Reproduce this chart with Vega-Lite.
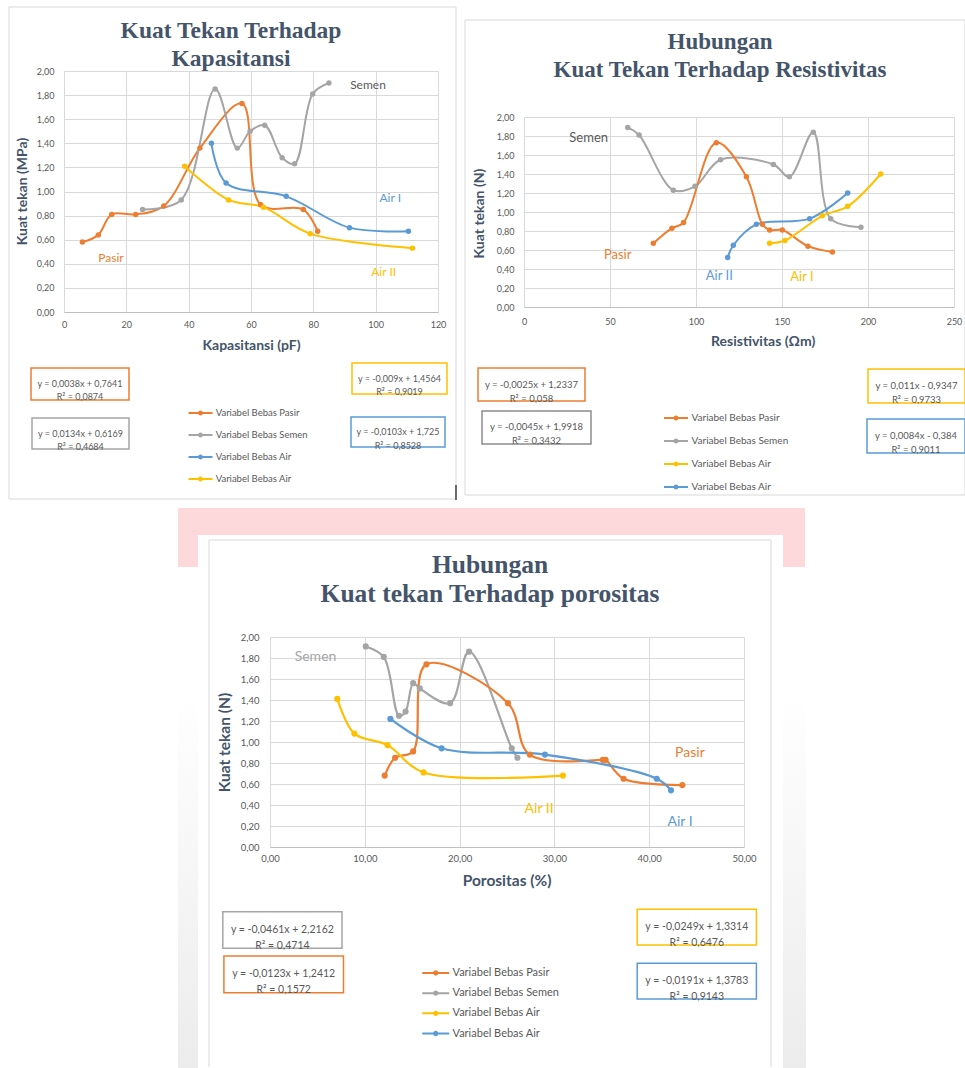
{
  "$schema": "https://vega.github.io/schema/vega-lite/v6.json",
  "padding": 0,
  "autosize": {"type": "pad"},
  "background": "white",
  "bounds": "flush",
  "align": "each",
  "spacing": {"row": 67, "column": 0},
  "columns": 2,
  "resolve": {"scale": {"color": "independent"}, "legend": {"color": "independent"}},
  "datasets": {
    "kap": [
      {"seri": "Pasir", "x": 5.9, "y": 0.58}, {"seri": "Pasir", "x": 11.0, "y": 0.64}, {"seri": "Pasir", "x": 15.3, "y": 0.81}, {"seri": "Pasir", "x": 23.0, "y": 0.81}, {"seri": "Pasir", "x": 32.0, "y": 0.88}, {"seri": "Pasir", "x": 43.6, "y": 1.36}, {"seri": "Pasir", "x": 57.1, "y": 1.73}, {"seri": "Pasir", "x": 63.1, "y": 0.89}, {"seri": "Pasir", "x": 76.8, "y": 0.85}, {"seri": "Pasir", "x": 81.4, "y": 0.67},
      {"seri": "Semen", "x": 25.2, "y": 0.85}, {"seri": "Semen", "x": 37.6, "y": 0.93}, {"seri": "Semen", "x": 48.5, "y": 1.85}, {"seri": "Semen", "x": 55.6, "y": 1.36}, {"seri": "Semen", "x": 59.7, "y": 1.50}, {"seri": "Semen", "x": 64.4, "y": 1.55}, {"seri": "Semen", "x": 70.0, "y": 1.28}, {"seri": "Semen", "x": 74.0, "y": 1.23}, {"seri": "Semen", "x": 79.8, "y": 1.81}, {"seri": "Semen", "x": 85.0, "y": 1.90},
      {"seri": "Air I", "x": 47.3, "y": 1.40}, {"seri": "Air I", "x": 52.0, "y": 1.07}, {"seri": "Air I", "x": 71.3, "y": 0.96}, {"seri": "Air I", "x": 91.6, "y": 0.70}, {"seri": "Air I", "x": 110.5, "y": 0.67},
      {"seri": "Air II", "x": 38.7, "y": 1.21}, {"seri": "Air II", "x": 52.8, "y": 0.93}, {"seri": "Air II", "x": 64.0, "y": 0.87}, {"seri": "Air II", "x": 79.0, "y": 0.65}, {"seri": "Air II", "x": 111.8, "y": 0.53}
    ],
    "res": [
      {"seri": "Semen", "x": 60.3, "y": 1.89}, {"seri": "Semen", "x": 66.9, "y": 1.81}, {"seri": "Semen", "x": 86.8, "y": 1.23}, {"seri": "Semen", "x": 99.4, "y": 1.27}, {"seri": "Semen", "x": 114.3, "y": 1.55}, {"seri": "Semen", "x": 145.0, "y": 1.50}, {"seri": "Semen", "x": 154.3, "y": 1.37}, {"seri": "Semen", "x": 168.2, "y": 1.84}, {"seri": "Semen", "x": 178.3, "y": 0.93}, {"seri": "Semen", "x": 195.9, "y": 0.84},
      {"seri": "Pasir", "x": 75.2, "y": 0.67}, {"seri": "Pasir", "x": 86.0, "y": 0.83}, {"seri": "Pasir", "x": 92.8, "y": 0.89}, {"seri": "Pasir", "x": 111.8, "y": 1.73}, {"seri": "Pasir", "x": 129.3, "y": 1.37}, {"seri": "Pasir", "x": 138.6, "y": 0.87}, {"seri": "Pasir", "x": 142.8, "y": 0.81}, {"seri": "Pasir", "x": 150.2, "y": 0.81}, {"seri": "Pasir", "x": 165.1, "y": 0.64}, {"seri": "Pasir", "x": 179.3, "y": 0.58},
      {"seri": "Air II", "x": 118.4, "y": 0.52}, {"seri": "Air II", "x": 121.7, "y": 0.65}, {"seri": "Air II", "x": 135.1, "y": 0.87}, {"seri": "Air II", "x": 166.1, "y": 0.93}, {"seri": "Air II", "x": 188.2, "y": 1.20},
      {"seri": "Air I", "x": 142.8, "y": 0.67}, {"seri": "Air I", "x": 151.7, "y": 0.70}, {"seri": "Air I", "x": 173.4, "y": 0.96}, {"seri": "Air I", "x": 188.2, "y": 1.06}, {"seri": "Air I", "x": 207.4, "y": 1.40}
    ],
    "por": [
      {"seri": "Semen", "x": 10.1, "y": 1.91}, {"seri": "Semen", "x": 12.0, "y": 1.81}, {"seri": "Semen", "x": 13.6, "y": 1.25}, {"seri": "Semen", "x": 14.3, "y": 1.29}, {"seri": "Semen", "x": 15.1, "y": 1.56}, {"seri": "Semen", "x": 15.8, "y": 1.51}, {"seri": "Semen", "x": 19.0, "y": 1.37}, {"seri": "Semen", "x": 21.0, "y": 1.86}, {"seri": "Semen", "x": 25.5, "y": 0.94}, {"seri": "Semen", "x": 26.1, "y": 0.85},
      {"seri": "Pasir", "x": 12.1, "y": 0.68}, {"seri": "Pasir", "x": 13.2, "y": 0.85}, {"seri": "Pasir", "x": 15.1, "y": 0.91}, {"seri": "Pasir", "x": 16.5, "y": 1.74}, {"seri": "Pasir", "x": 25.1, "y": 1.37}, {"seri": "Pasir", "x": 27.4, "y": 0.88}, {"seri": "Pasir", "x": 35.1, "y": 0.83}, {"seri": "Pasir", "x": 35.4, "y": 0.83}, {"seri": "Pasir", "x": 37.3, "y": 0.65}, {"seri": "Pasir", "x": 43.5, "y": 0.59},
      {"seri": "Air I", "x": 12.7, "y": 1.22}, {"seri": "Air I", "x": 18.1, "y": 0.94}, {"seri": "Air I", "x": 29.0, "y": 0.88}, {"seri": "Air I", "x": 40.8, "y": 0.65}, {"seri": "Air I", "x": 42.3, "y": 0.54},
      {"seri": "Air II", "x": 7.1, "y": 1.41}, {"seri": "Air II", "x": 8.9, "y": 1.08}, {"seri": "Air II", "x": 12.4, "y": 0.97}, {"seri": "Air II", "x": 16.2, "y": 0.71}, {"seri": "Air II", "x": 30.9, "y": 0.68}
    ]
  },
  "concat": [
    {
      "width": 168,
      "height": 241,
      "data": {"values": [{}]},
      "layer": [
        {
          "data": {"name": "kap"},
          "mark": {"type": "line", "interpolate": "catmull-rom", "strokeWidth": 2, "point": {"filled": true, "size": 30}},
          "encoding": {
            "x": {"field": "x", "type": "quantitative", "scale": {"domain": [0, 120], "range": [-206, 168], "nice": false, "zero": false},
                  "axis": {"values": [0, 20, 40, 60, 80, 100, 120], "tickCount": 40, "format": "d", "title": "Kapasitansi (pF)", "titleX": -19, "titleY": 33, "titleAlign": "center", "titleBaseline": "middle", "labelPadding": 8, "labelOverlap": false}},
            "y": {"field": "y", "type": "quantitative", "scale": {"domain": [0, 2], "nice": false, "zero": false},
                  "axis": {"values": [0, 0.2, 0.4, 0.6, 0.8, 1, 1.2, 1.4, 1.6, 1.8, 2], "tickCount": 40, "labelExpr": "replace(format(datum.value, '.2f'), '.', ',')", "title": "Kuat tekan  (MPa)", "offset": 206, "titleX": -41.3, "titleY": 120, "titleAngle": -90, "titleAlign": "center", "titleBaseline": "middle", "labelPadding": 10, "labelOverlap": false}},
            "color": {"field": "seri", "type": "nominal",
                      "scale": {"domain": ["Pasir", "Semen", "Air I", "Air II"], "range": ["#ED7D31", "#A5A5A5", "#5B9BD5", "#FFC000"]},
                      "legend": {"orient": "none", "legendX": -76.5, "legendY": 335, "title": null, "padding": 0, "symbolType": "M-2,0H2M-0.25,0A0.25,0.25,0,1,1,0.25,0A0.25,0.25,0,1,1,-0.25,0Z", "symbolSize": 144, "symbolStrokeWidth": 2, "labelFont": "Lato", "labelFontSize": 9.5, "labelColor": "#595959", "labelOffset": 8.2, "rowPadding": 9, "labelExpr": "datum.label == 'Pasir' ? 'Variabel Bebas Pasir' : datum.label == 'Semen' ? 'Variabel Bebas Semen' : 'Variabel Bebas Air'"}}
          }
        },
        {"mark": {"type": "rect", "opacity": 0}, "encoding": {"x": {"datum": -20.214}, "x2": {"datum": 289.41}, "y": {"datum": 2.5892}, "y2": {"datum": -6.2739}}},
        {"mark": {"type": "rect", "color": "#FDD9DB"}, "encoding": {"x": {"datum": 36.578}, "x2": {"datum": 237.754}, "y": {"datum": -1.6266}, "y2": {"datum": -2.1162}}},
        {"mark": {"type": "rect", "color": "white"}, "encoding": {"x": {"datum": 42.995}, "x2": {"datum": 230.695}, "y": {"datum": -1.8506}, "y2": {"datum": -2.1245}}},
        {"mark": {"type": "rect", "color": {"gradient": "linear", "x1": 0, "y1": 0, "x2": 0, "y2": 1, "stops": [{"offset": 0, "color": "#ffffff"}, {"offset": 1, "color": "#ececec"}]}}, "encoding": {"x": {"datum": 36.578}, "x2": {"datum": 42.995}, "y": {"datum": -3.137}, "y2": {"datum": -6.2739}}},
        {"mark": {"type": "rect", "color": {"gradient": "linear", "x1": 0, "y1": 0, "x2": 0, "y2": 1, "stops": [{"offset": 0, "color": "#ffffff"}, {"offset": 1, "color": "#ececec"}]}}, "encoding": {"x": {"datum": 230.695}, "x2": {"datum": 238.075}, "y": {"datum": -3.137}, "y2": {"datum": -6.2739}}},
        {"mark": {"type": "rect", "filled": false, "stroke": "#D9D9D9", "strokeWidth": 1}, "encoding": {"x": {"datum": -17.647}, "x2": {"datum": 125.775}, "y": {"datum": 2.5311}, "y2": {"datum": -1.5519}}},
        {"mark": {"type": "rule", "color": "#404040", "strokeWidth": 1.5}, "encoding": {"x": {"datum": 125.775}, "y": {"datum": -1.4357}, "y2": {"datum": -1.5602}}},
        {"mark": {"type": "text", "text": ["Kuat Tekan Terhadap", "Kapasitansi"], "font": "Liberation Serif", "fontWeight": "bold", "fontSize": 23.5, "color": "#44546A", "align": "center", "baseline": "alphabetic", "lineHeight": 28}, "encoding": {"x": {"datum": 53.58}, "y": {"datum": 2.2739}}},
        {"mark": {"type": "text", "text": "Semen", "color": "#595959", "font": "Lato", "fontSize": 12, "align": "center", "baseline": "middle"}, "encoding": {"x": {"datum": 97.54}, "y": {"datum": 1.8838}}},
        {"mark": {"type": "text", "text": "Air I", "color": "#5B9BD5", "font": "Lato", "fontSize": 12, "align": "center", "baseline": "middle"}, "encoding": {"x": {"datum": 104.69}, "y": {"datum": 0.9436}}},
        {"mark": {"type": "text", "text": "Pasir", "color": "#ED7D31", "font": "Lato", "fontSize": 12, "align": "center", "baseline": "middle"}, "encoding": {"x": {"datum": 15.08}, "y": {"datum": 0.4456}}},
        {"mark": {"type": "text", "text": "Air II", "color": "#FFC000", "font": "Lato", "fontSize": 12, "align": "center", "baseline": "middle"}, "encoding": {"x": {"datum": 102.58}, "y": {"datum": 0.3295}}},
        {"mark": {"type": "rect", "fill": "white", "stroke": "#ED7D31", "strokeWidth": 1.5}, "encoding": {"x": {"datum": -10.588}, "x2": {"datum": 20.856}, "y": {"datum": -0.4647}, "y2": {"datum": -0.7303}}},
        {"mark": {"type": "text", "text": ["y = 0,0038x + 0,7641", "R² = 0,0874"], "color": "#595959", "font": "Lato", "fontSize": 9, "lineHeight": 13.5, "align": "center", "baseline": "middle"}, "encoding": {"x": {"datum": 5.134}, "y": {"datum": -0.5975}}},
        {"mark": {"type": "rect", "fill": "white", "stroke": "#A5A5A5", "strokeWidth": 1.5}, "encoding": {"x": {"datum": -10.267}, "x2": {"datum": 20.856}, "y": {"datum": -0.8797}, "y2": {"datum": -1.1369}}},
        {"mark": {"type": "text", "text": ["y = 0,0134x + 0,6169", "R² = 0,4684"], "color": "#595959", "font": "Lato", "fontSize": 9, "lineHeight": 13.5, "align": "center", "baseline": "middle"}, "encoding": {"x": {"datum": 5.294}, "y": {"datum": -1.0083}}},
        {"mark": {"type": "rect", "fill": "white", "stroke": "#FFC000", "strokeWidth": 1.5}, "encoding": {"x": {"datum": 92.406}, "x2": {"datum": 122.888}, "y": {"datum": -0.4232}, "y2": {"datum": -0.6805}}},
        {"mark": {"type": "text", "text": ["y = -0,009x + 1,4564", "R² = 0,9019"], "color": "#595959", "font": "Lato", "fontSize": 9, "lineHeight": 13.5, "align": "center", "baseline": "middle"}, "encoding": {"x": {"datum": 107.647}, "y": {"datum": -0.5519}}},
        {"mark": {"type": "rect", "fill": "white", "stroke": "#5B9BD5", "strokeWidth": 1.5}, "encoding": {"x": {"datum": 92.086}, "x2": {"datum": 122.246}, "y": {"datum": -0.8714}, "y2": {"datum": -1.1203}}},
        {"mark": {"type": "text", "text": ["y = -0,0103x + 1,725", "R² = 0,8528"], "color": "#595959", "font": "Lato", "fontSize": 9, "lineHeight": 13.5, "align": "center", "baseline": "middle"}, "encoding": {"x": {"datum": 107.166}, "y": {"datum": -0.9959}}}
      ]
    },
    {
      "width": 210,
      "height": 282,
      "data": {"values": [{}]},
      "layer": [
        {
          "data": {"name": "res"},
          "mark": {"type": "line", "interpolate": "catmull-rom", "strokeWidth": 2, "point": {"filled": true, "size": 30}},
          "encoding": {
            "x": {"field": "x", "type": "quantitative", "scale": {"domain": [0, 250], "range": [-220, 210], "nice": false, "zero": false},
                  "axis": {"values": [0, 50, 100, 150, 200, 250], "tickCount": 40, "format": "d", "offset": -46, "title": "Resistivitas (Ωm)", "titleX": 18.7, "titleY": 34.7, "titleAlign": "center", "titleBaseline": "middle", "labelPadding": 10, "labelOverlap": false}},
            "y": {"field": "y", "type": "quantitative", "scale": {"domain": [0, 2], "range": [236, 46], "nice": false, "zero": false},
                  "axis": {"values": [0, 0.2, 0.4, 0.6, 0.8, 1, 1.2, 1.4, 1.6, 1.8, 2], "tickCount": 40, "labelExpr": "replace(format(datum.value, '.2f'), '.', ',')", "title": "Kuat tekan  (N)", "offset": 220, "titleX": -45, "titleY": 142, "titleAngle": -90, "titleAlign": "center", "titleBaseline": "middle", "labelPadding": 10, "labelOverlap": false}},
            "color": {"field": "seri", "type": "nominal",
                      "scale": {"domain": ["Pasir", "Semen", "Air I", "Air II"], "range": ["#ED7D31", "#A5A5A5", "#FFC000", "#5B9BD5"]},
                      "legend": {"orient": "none", "legendX": -75, "legendY": 340, "title": null, "padding": 0, "symbolType": "M-2,0H2M-0.25,0A0.25,0.25,0,1,1,0.25,0A0.25,0.25,0,1,1,-0.25,0Z", "symbolSize": 144, "symbolStrokeWidth": 2, "labelFont": "Lato", "labelFontSize": 10, "labelColor": "#595959", "labelOffset": 8.5, "rowPadding": 10, "labelExpr": "datum.label == 'Pasir' ? 'Variabel Bebas Pasir' : datum.label == 'Semen' ? 'Variabel Bebas Semen' : 'Variabel Bebas Air'"}}
          }
        },
        {"mark": {"type": "rect", "filled": false, "stroke": "#D9D9D9", "strokeWidth": 1}, "encoding": {"x": {"datum": -34.302}, "x2": {"datum": 256.395}, "y": {"datum": 3.0211}, "y2": {"datum": -1.9789}}},
        {"mark": {"type": "text", "text": ["Hubungan", "Kuat Tekan Terhadap Resistivitas"], "font": "Liberation Serif", "fontWeight": "bold", "fontSize": 23, "color": "#44546A", "align": "center", "baseline": "alphabetic", "lineHeight": 28.5}, "encoding": {"x": {"datum": 113.953}, "y": {"datum": 2.7158}}},
        {"mark": {"type": "text", "text": "Semen", "color": "#595959", "font": "Lato", "fontSize": 13, "align": "center", "baseline": "middle"}, "encoding": {"x": {"datum": 37.616}, "y": {"datum": 1.7758}}},
        {"mark": {"type": "text", "text": "Pasir", "color": "#ED7D31", "font": "Lato", "fontSize": 13, "align": "center", "baseline": "middle"}, "encoding": {"x": {"datum": 54.477}, "y": {"datum": 0.5474}}},
        {"mark": {"type": "text", "text": "Air II", "color": "#5B9BD5", "font": "Lato", "fontSize": 13, "align": "center", "baseline": "middle"}, "encoding": {"x": {"datum": 113.547}, "y": {"datum": 0.3295}}},
        {"mark": {"type": "text", "text": "Air I", "color": "#FFC000", "font": "Lato", "fontSize": 13, "align": "center", "baseline": "middle"}, "encoding": {"x": {"datum": 161.628}, "y": {"datum": 0.3189}}},
        {"mark": {"type": "rect", "fill": "white", "stroke": "#ED7D31", "strokeWidth": 1.5}, "encoding": {"x": {"datum": -26.744}, "x2": {"datum": 35.465}, "y": {"datum": -0.6421}, "y2": {"datum": -0.9895}}},
        {"mark": {"type": "text", "text": ["y = -0,0025x + 1,2337", "R² = 0,058"], "color": "#595959", "font": "Lato", "fontSize": 9.5, "lineHeight": 14, "align": "center", "baseline": "middle"}, "encoding": {"x": {"datum": 4.36}, "y": {"datum": -0.8158}}},
        {"mark": {"type": "rect", "fill": "white", "stroke": "#8C8C8C", "strokeWidth": 1.5}, "encoding": {"x": {"datum": -24.419}, "x2": {"datum": 38.953}, "y": {"datum": -1.0947}, "y2": {"datum": -1.4421}}},
        {"mark": {"type": "text", "text": ["y = -0,0045x + 1,9918", "R² = 0,3432"], "color": "#595959", "font": "Lato", "fontSize": 9.5, "lineHeight": 14, "align": "center", "baseline": "middle"}, "encoding": {"x": {"datum": 7.267}, "y": {"datum": -1.2684}}},
        {"mark": {"type": "rect", "fill": "white", "stroke": "#FFC000", "strokeWidth": 1.5}, "encoding": {"x": {"datum": 200.0}, "x2": {"datum": 256.395}, "y": {"datum": -0.6526}, "y2": {"datum": -1.0105}}},
        {"mark": {"type": "text", "text": ["y = 0,011x - 0,9347", "R² = 0,9733"], "color": "#595959", "font": "Lato", "fontSize": 9.5, "lineHeight": 14, "align": "center", "baseline": "middle"}, "encoding": {"x": {"datum": 228.198}, "y": {"datum": -0.8316}}},
        {"mark": {"type": "rect", "fill": "white", "stroke": "#5B9BD5", "strokeWidth": 1.5}, "encoding": {"x": {"datum": 199.419}, "x2": {"datum": 256.395}, "y": {"datum": -1.1789}, "y2": {"datum": -1.5368}}},
        {"mark": {"type": "text", "text": ["y = 0,0084x - 0,384", "R² = 0,9011"], "color": "#595959", "font": "Lato", "fontSize": 9.5, "lineHeight": 14, "align": "center", "baseline": "middle"}, "encoding": {"x": {"datum": 227.907}, "y": {"datum": -1.3579}}}
      ]
    },
    {
      "width": 474,
      "height": 644,
      "data": {"values": [{}]},
      "layer": [
        {
          "data": {"name": "por"},
          "mark": {"type": "line", "interpolate": "catmull-rom", "strokeWidth": 2.2, "point": {"filled": true, "size": 38}},
          "encoding": {
            "x": {"field": "x", "type": "quantitative", "scale": {"domain": [0, 50], "nice": false, "zero": false},
                  "axis": {"values": [0, 10, 20, 30, 40, 50], "tickCount": 40, "offset": -217, "labelExpr": "replace(format(datum.value, '.2f'), '.', ',')", "title": "Porositas (%)", "titleX": 236.6, "titleY": 33, "titleAlign": "center", "titleBaseline": "middle", "titleFontSize": 15.5, "labelPadding": 6, "labelFontSize": 9.5, "labelOverlap": false}},
            "y": {"field": "y", "type": "quantitative", "scale": {"domain": [0, 2], "range": [427, 217], "nice": false, "zero": false},
                  "axis": {"values": [0, 0.2, 0.4, 0.6, 0.8, 1, 1.2, 1.4, 1.6, 1.8, 2], "tickCount": 40, "labelExpr": "replace(format(datum.value, '.2f'), '.', ',')", "title": "Kuat tekan  (N)", "titleX": -45.4, "titleY": 322, "titleAngle": -90, "titleAlign": "center", "titleBaseline": "middle", "titleFontSize": 15.5, "labelPadding": 11, "labelFontSize": 9.5, "labelOverlap": false}},
            "color": {"field": "seri", "type": "nominal",
                      "scale": {"domain": ["Pasir", "Semen", "Air II", "Air I"], "range": ["#ED7D31", "#A5A5A5", "#FFC000", "#5B9BD5"]},
                      "legend": {"orient": "none", "legendX": 157.75, "legendY": 544.95, "title": null, "padding": 0, "symbolType": "M-2,0H2M-0.25,0A0.25,0.25,0,1,1,0.25,0A0.25,0.25,0,1,1,-0.25,0Z", "symbolSize": 182, "symbolStrokeWidth": 2, "labelFont": "Lato", "labelFontSize": 11, "labelColor": "#595959", "labelOffset": 8.75, "rowPadding": 6.2, "labelExpr": "datum.label == 'Pasir' ? 'Variabel Bebas Pasir' : datum.label == 'Semen' ? 'Variabel Bebas Semen' : 'Variabel Bebas Air'"}}
          }
        },
        {"mark": {"type": "rule", "color": "#D9D9D9", "strokeWidth": 1}, "encoding": {"x": {"datum": -6.4346}, "y": {"datum": 2.9238}, "y2": {"datum": -2.0952}}},
        {"mark": {"type": "rule", "color": "#D9D9D9", "strokeWidth": 1}, "encoding": {"x": {"datum": 52.8481}, "y": {"datum": 2.9238}, "y2": {"datum": -2.0952}}},
        {"mark": {"type": "rule", "color": "#D9D9D9", "strokeWidth": 1}, "encoding": {"x": {"datum": -6.4346}, "x2": {"datum": 52.8481}, "y": {"datum": 2.9238}}},
        {"mark": {"type": "text", "text": ["Hubungan", "Kuat tekan Terhadap porositas"], "font": "Liberation Serif", "fontWeight": "bold", "fontSize": 25.5, "color": "#44546A", "align": "center", "baseline": "alphabetic", "lineHeight": 29}, "encoding": {"x": {"datum": 23.207}, "y": {"datum": 2.6067}}},
        {"mark": {"type": "text", "text": "Semen", "color": "#A5A5A5", "font": "Lato", "fontSize": 14, "align": "center", "baseline": "middle"}, "encoding": {"x": {"datum": 4.8}, "y": {"datum": 1.8067}}},
        {"mark": {"type": "text", "text": "Pasir", "color": "#ED7D31", "font": "Lato", "fontSize": 14, "align": "center", "baseline": "middle"}, "encoding": {"x": {"datum": 44.293}, "y": {"datum": 0.8924}}},
        {"mark": {"type": "text", "text": "Air II", "color": "#FFC000", "font": "Lato", "fontSize": 14, "align": "center", "baseline": "middle"}, "encoding": {"x": {"datum": 28.386}, "y": {"datum": 0.359}}},
        {"mark": {"type": "text", "text": "Air I", "color": "#5B9BD5", "font": "Lato", "fontSize": 14, "align": "center", "baseline": "middle"}, "encoding": {"x": {"datum": 43.259}, "y": {"datum": 0.241}}},
        {"mark": {"type": "rect", "fill": "white", "stroke": "#A5A5A5", "strokeWidth": 1.5}, "encoding": {"x": {"datum": -4.979}, "x2": {"datum": 7.595}, "y": {"datum": -0.6162}, "y2": {"datum": -0.9648}}},
        {"mark": {"type": "text", "text": ["y = -0,0461x + 2,2162", "R² = 0,4714"], "color": "#595959", "font": "Lato", "fontSize": 10.5, "lineHeight": 15.5, "align": "center", "baseline": "middle"}, "encoding": {"x": {"datum": 1.308}, "y": {"datum": -0.7905}}},
        {"mark": {"type": "rect", "fill": "white", "stroke": "#ED7D31", "strokeWidth": 1.5}, "encoding": {"x": {"datum": -4.863}, "x2": {"datum": 7.753}, "y": {"datum": -1.0381}, "y2": {"datum": -1.3876}}},
        {"mark": {"type": "text", "text": ["y = -0,0123x + 1,2412", "R² = 0,1572"], "color": "#595959", "font": "Lato", "fontSize": 10.5, "lineHeight": 15.5, "align": "center", "baseline": "middle"}, "encoding": {"x": {"datum": 1.445}, "y": {"datum": -1.2124}}},
        {"mark": {"type": "rect", "fill": "white", "stroke": "#FFC000", "strokeWidth": 1.5}, "encoding": {"x": {"datum": 38.734}, "x2": {"datum": 51.308}, "y": {"datum": -0.5933}, "y2": {"datum": -0.9333}}},
        {"mark": {"type": "text", "text": ["y = -0,0249x + 1,3314", "R² = 0,6476"], "color": "#595959", "font": "Lato", "fontSize": 10.5, "lineHeight": 15.5, "align": "center", "baseline": "middle"}, "encoding": {"x": {"datum": 45.021}, "y": {"datum": -0.7638}}},
        {"mark": {"type": "rect", "fill": "white", "stroke": "#5B9BD5", "strokeWidth": 1.5}, "encoding": {"x": {"datum": 38.734}, "x2": {"datum": 51.308}, "y": {"datum": -1.1076}, "y2": {"datum": -1.4476}}},
        {"mark": {"type": "text", "text": ["y = -0,0191x + 1,3783", "R² = 0,9143"], "color": "#595959", "font": "Lato", "fontSize": 10.5, "lineHeight": 15.5, "align": "center", "baseline": "middle"}, "encoding": {"x": {"datum": 45.021}, "y": {"datum": -1.2781}}}
      ]
    }
  ],
  "config": {
    "view": {"stroke": null},
    "font": "Lato",
    "axis": {"grid": true, "gridColor": "#D9D9D9", "gridWidth": 1, "ticks": false, "tickSize": 0, "domainColor": "#BFBFBF", "labelColor": "#595959", "labelFont": "Lato", "labelFontSize": 9, "labelFlush": false, "labelOverlap": false, "titleFont": "Lato", "titleFontWeight": "bold", "titleColor": "#44546A", "titleFontSize": 14},
    "axisY": {"domain": false}
  }
}
